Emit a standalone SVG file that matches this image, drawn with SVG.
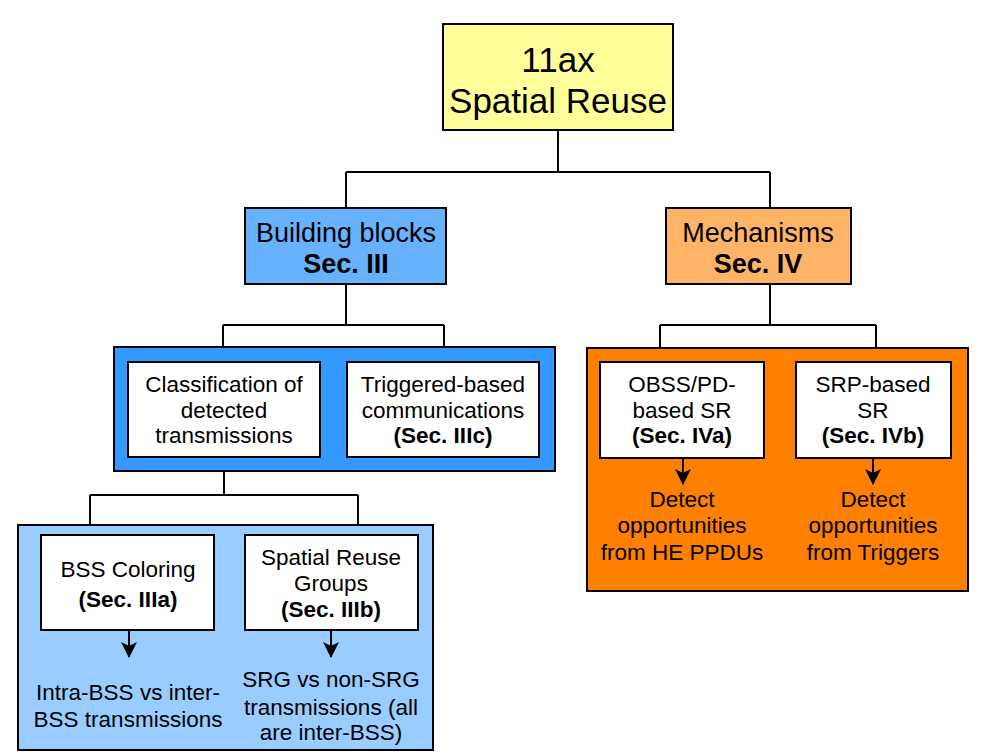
<svg xmlns="http://www.w3.org/2000/svg" width="986" height="755" viewBox="0 0 986 755">
<defs>
<style>
.b{stroke:#000;stroke-width:2}
.t{font-family:"Liberation Sans",Arial,Helvetica,sans-serif;fill:#000;text-anchor:middle}
.s{font-size:22.5px}
.bd{font-weight:bold}
.c{fill:none;stroke:#000;stroke-width:2}
</style>
<marker id="ah" viewBox="0 0 16 16" refX="15" refY="8" markerWidth="16" markerHeight="16" markerUnits="userSpaceOnUse" orient="auto">
<path d="M0,0 L16,8 L0,16 L4,8 Z" fill="#000"/>
</marker>
</defs>
<rect width="986" height="755" fill="#fff"/>
<g id="root">
<rect class="b" x="443" y="24" width="230" height="106" fill="#FFFF99"/>
<text class="t" x="558" y="72" font-size="35">11ax</text>
<text class="t" x="558" y="113" font-size="35">Spatial Reuse</text>
</g>
<g id="building">
<rect class="b" x="245" y="208" width="201" height="76" fill="#66B2FF"/>
<text class="t" x="346" y="242" font-size="27">Building blocks</text>
<text class="t bd" x="346" y="273" font-size="27">Sec. III</text>
</g>
<g id="mechanisms">
<rect class="b" x="666" y="208" width="185" height="76" fill="#FFB366"/>
<text class="t" x="758" y="242" font-size="27">Mechanisms</text>
<text class="t bd" x="758" y="273" font-size="27">Sec. IV</text>
</g>
<g id="bb-container">
<rect class="b" x="114" y="347" width="441" height="124" fill="#3399FF"/>
</g>
<g id="classification">
<rect class="b" x="128" y="362" width="192" height="95" fill="#fff"/>
<text class="t s" x="224" y="392">Classification of</text>
<text class="t s" x="224" y="418">detected</text>
<text class="t s" x="224" y="443">transmissions</text>
</g>
<g id="triggered">
<rect class="b" x="347" y="362" width="192" height="95" fill="#fff"/>
<text class="t s" x="443" y="392">Triggered-based</text>
<text class="t s" x="443" y="418">communications</text>
<text class="t s bd" x="443" y="443">(Sec. IIIc)</text>
</g>
<g id="mech-container">
<rect class="b" x="587" y="348" width="381" height="243" fill="#FF8000"/>
</g>
<g id="obss">
<rect class="b" x="600" y="362" width="164" height="96" fill="#fff"/>
<text class="t s" x="682" y="392">OBSS/PD-</text>
<text class="t s" x="682" y="418">based SR</text>
<text class="t s bd" x="682" y="443">(Sec. IVa)</text>
</g>
<g id="srp">
<rect class="b" x="796" y="362" width="155" height="96" fill="#fff"/>
<text class="t s" x="873" y="392">SRP-based</text>
<text class="t s" x="873" y="418">SR</text>
<text class="t s bd" x="873" y="443">(Sec. IVb)</text>
</g>
<g id="obss-result">
<text class="t s" x="682" y="507">Detect</text>
<text class="t s" x="682" y="533">opportunities</text>
<text class="t s" x="682" y="560">from HE PPDUs</text>
</g>
<g id="srp-result">
<text class="t s" x="873" y="507">Detect</text>
<text class="t s" x="873" y="533">opportunities</text>
<text class="t s" x="873" y="560">from Triggers</text>
</g>
<g id="class-container">
<rect class="b" x="18" y="525" width="415" height="225" fill="#99CCFF"/>
</g>
<g id="bss-coloring">
<rect class="b" x="41" y="535" width="173" height="95" fill="#fff"/>
<text class="t s" x="128" y="577">BSS Coloring</text>
<text class="t s bd" x="128" y="607">(Sec. IIIa)</text>
</g>
<g id="srg">
<rect class="b" x="245" y="535" width="173" height="95" fill="#fff"/>
<text class="t s" x="331" y="565">Spatial Reuse</text>
<text class="t s" x="331" y="591">Groups</text>
<text class="t s bd" x="331" y="617">(Sec. IIIb)</text>
</g>
<g id="bss-result">
<text class="t s" x="128" y="700">Intra-BSS vs inter-</text>
<text class="t s" x="128" y="727">BSS transmissions</text>
</g>
<g id="srg-result">
<text class="t s" x="331" y="687">SRG vs non-SRG</text>
<text class="t s" x="331" y="715">transmissions (all</text>
<text class="t s" x="331" y="740">are inter-BSS)</text>
</g>
<g id="connectors">
<path class="c" d="M558,130 V172 M346,172 H770 M346,172 V208 M770,172 V208"/>
<path class="c" d="M346,284 V325 M223,325 H444 M223,325 V347 M444,325 V347"/>
<path class="c" d="M770,284 V325 M660,325 H876 M660,325 V348 M876,325 V348"/>
<path class="c" d="M224,471 V495 M90,495 H358 M90,495 V525 M358,495 V525"/>
<path class="c" d="M683,458 V484" marker-end="url(#ah)"/>
<path class="c" d="M873,458 V484" marker-end="url(#ah)"/>
<path class="c" d="M129,630 V657" marker-end="url(#ah)"/>
<path class="c" d="M331,630 V657" marker-end="url(#ah)"/>
</g>
</svg>
